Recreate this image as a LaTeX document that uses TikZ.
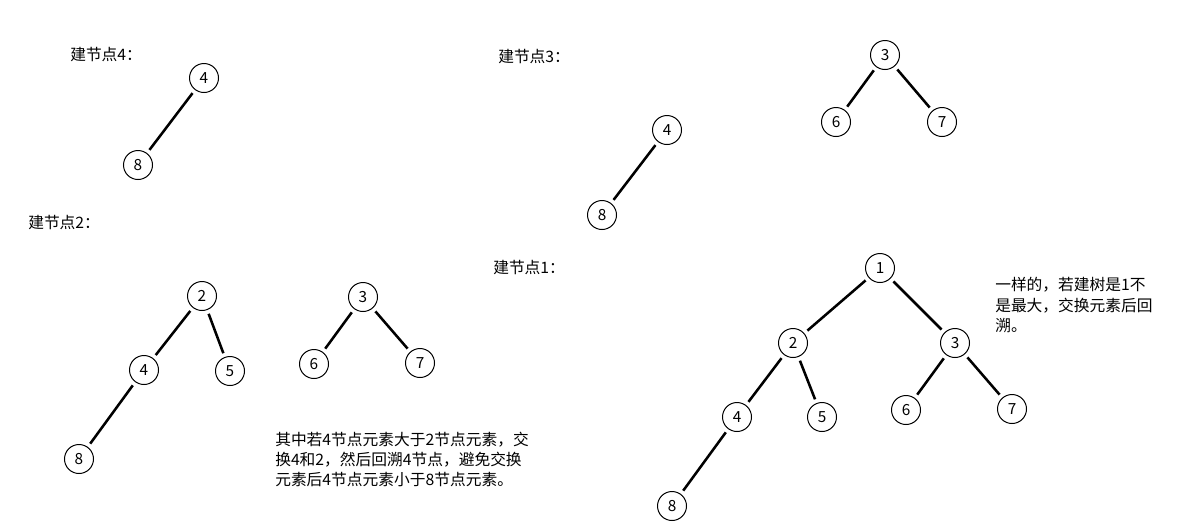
\documentclass[tikz,border=0pt]{standalone}
\usepackage{fontspec}
\setmainfont{Noto Sans CJK SC}
\begin{document}
\begin{tikzpicture}[x=0.75pt,y=-0.75pt,
  tn/.style={circle,draw=black,line width=0.75pt,minimum size=29*0.75pt,inner sep=0pt,outer sep=0pt,font=\fontsize{11.5pt}{13pt}\selectfont},
  edge/.style={line width=1.9pt,shorten <=4.5*0.75pt,shorten >=4.5*0.75pt},
  txt/.style={anchor=west,inner sep=0pt,font=\fontsize{11.8pt}{15pt}\selectfont}]
\useasboundingbox[fill=white] (0,0) rectangle (1181,522);
% labels
\node[txt] (l4) at (70,55) {建节点4：};
\node[txt] (l3) at (498,57) {建节点3：};
\node[txt] (l2) at (28,223) {建节点2：};
\node[txt] (l1) at (493,268) {建节点1：};
% tree A
\node[tn] (a4) at (204,78) {4};
\node[tn] (a8) at (138,165) {8};
\draw[edge] (a4) -- (a8);
% tree B
\node[tn] (b4) at (667,130) {4};
\node[tn] (b8) at (602,215) {8};
\draw[edge] (b4) -- (b8);
\node[tn] (b3) at (885,55) {3};
\node[tn] (b6) at (836,122) {6};
\node[tn] (b7) at (942,122) {7};
\draw[edge] (b3) -- (b6);
\draw[edge] (b3) -- (b7);
% tree C
\node[tn] (c2) at (202,296) {2};
\node[tn] (c4) at (144,370) {4};
\node[tn] (c5) at (230,371) {5};
\node[tn] (c8) at (79,459) {8};
\draw[edge] (c2) -- (c4);
\draw[edge] (c2) -- (c5);
\draw[edge] (c4) -- (c8);
\node[tn] (d3) at (363,297) {3};
\node[tn] (d6) at (314,364) {6};
\node[tn] (d7) at (420,363) {7};
\draw[edge] (d3) -- (d6);
\draw[edge] (d3) -- (d7);
% tree E
\node[tn] (e1) at (880,268) {1};
\node[tn] (e2) at (793,343) {2};
\node[tn] (e3) at (955,343) {3};
\node[tn] (e4) at (737,417) {4};
\node[tn] (e5) at (822,417) {5};
\node[tn] (e6) at (906,410) {6};
\node[tn] (e7) at (1012,409) {7};
\node[tn] (e8) at (672,506) {8};
\draw[edge] (e1) -- (e2);
\draw[edge] (e1) -- (e3);
\draw[edge] (e2) -- (e4);
\draw[edge] (e2) -- (e5);
\draw[edge] (e3) -- (e6);
\draw[edge] (e3) -- (e7);
\draw[edge] (e4) -- (e8);
% notes
\node[txt] (n1) at (275,440) {其中若4节点元素大于2节点元素，交};
\node[txt] (n2) at (275,460) {换4和2，然后回溯4节点，避免交换};
\node[txt] (n3) at (275,480) {元素后4节点元素小于8节点元素。};
\node[txt] (m1) at (995,285) {一样的，若建树是1不};
\node[txt] (m2) at (995,306) {是最大，交换元素后回};
\node[txt] (m3) at (995,326) {溯。};
\end{tikzpicture}
\end{document}
